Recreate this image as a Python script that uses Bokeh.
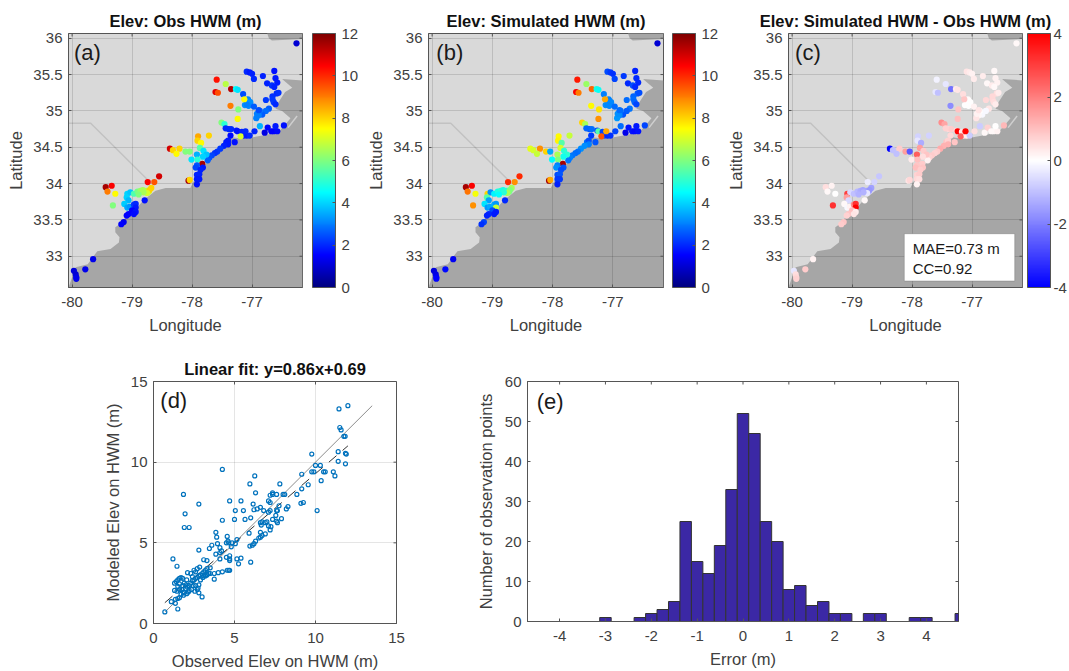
import numpy as np
from bokeh.plotting import figure
from bokeh.layouts import column, row
from bokeh.models import (ColumnDataSource, LinearColorMapper, ColorBar, FixedTicker,
                          Label, BoxAnnotation, Title, Range1d)
from bokeh.transform import transform
from bokeh.embed import file_html
from bokeh.resources import INLINE

LON = [-76.26,-77.09,-77.04,-77.00,-76.97,-76.82,-76.63,-76.61,-76.75,-76.58,
       -76.67,-76.63,-76.59,-76.56,-76.66,-76.66,-76.77,-76.64,-76.61,-76.72,
       -76.77,-76.83,-76.87,-76.89,-76.93,-76.92,-77.15,-77.07,-77.06,-77.08,
       -77.03,-77.12,-77.06,-77.09,-76.97,-76.89,-77.59,-77.44,-77.35,-77.27,
       -77.24,-77.61,-77.57,-77.36,-77.23,-77.24,-77.13,-77.51,-77.46,-77.39,
       -77.35,-77.36,-77.26,-77.24,-77.17,-77.14,-77.19,-77.09,-77.04,-77.11,
       -76.96,-76.87,-76.79,-76.74,-76.68,-76.64,-76.58,-76.61,-76.47,-77.44,
       -77.43,-77.40,-77.40,-77.29,-77.47,-77.53,-77.58,-77.62,-77.67,-77.71,
       -77.74,-77.90,-77.91,-77.85,-77.72,-77.87,-77.81,-77.92,-77.76,-77.82,
       -78.01,-77.91,-78.37,-78.32,-78.21,-78.26,-78.11,-78.04,-77.83,-77.92,
       -77.94,-77.82,-77.86,-77.92,-77.88,-77.92,-77.88,-77.92,-78.06,-78.04,
       -78.55,-78.63,-78.74,-79.34,-79.44,-79.41,-79.28,-79.32,-78.79,-79.08,
       -79.03,-79.09,-79.06,-79.13,-79.08,-79.04,-78.97,-78.94,-78.94,-79.00,
       -79.06,-79.09,-78.94,-78.97,-79.14,-79.18,-78.97,-78.91,-78.86,-78.82,
       -78.76,-78.72,-78.68,-78.71,-78.75,-78.81,-78.89,-79.65,-79.78,-79.97,
       -79.94,-79.93,-79.93]
LAT = [35.93,35.54,35.53,35.51,35.44,35.48,35.55,35.45,35.38,35.39,
       35.35,35.33,35.24,35.25,35.20,35.16,35.15,35.12,35.09,35.03,
       35.00,34.95,35.00,34.94,34.90,34.96,35.23,35.16,35.14,35.12,
       35.12,35.08,35.07,35.09,35.06,35.01,35.43,35.37,35.30,35.30,
       35.29,35.26,35.25,35.07,35.02,34.89,35.16,34.84,34.82,34.75,
       34.75,34.66,34.73,34.72,34.71,34.66,34.65,34.66,34.66,34.72,
       34.72,34.79,34.70,34.77,34.72,34.72,34.72,34.79,34.80,34.76,
       34.57,34.59,34.54,34.57,34.52,34.48,34.44,34.42,34.39,34.36,
       34.32,34.65,34.59,34.56,34.66,34.49,34.45,34.40,34.40,34.37,
       34.33,34.33,34.48,34.46,34.48,34.41,34.44,34.44,34.27,34.25,
       34.22,34.22,34.19,34.12,34.13,34.06,34.06,33.99,34.04,34.05,
       34.10,34.02,34.02,33.97,33.95,33.89,33.86,33.70,33.77,33.86,
       33.88,33.81,33.77,33.72,33.67,33.68,33.71,33.72,33.67,33.63,
       33.58,33.56,33.61,33.58,33.47,33.44,33.86,33.89,33.90,33.91,
       33.90,33.89,33.94,33.91,33.87,33.88,33.85,32.96,32.82,32.80,
       32.75,32.71,32.69]
OBS = [1.0,2.0,1.8,1.9,2.0,1.9,1.7,1.8,1.9,1.8,
       2.1,1.9,2.0,2.1,2.1,2.2,2.2,2.2,2.0,2.6,
       2.8,2.6,2.8,3.0,3.0,3.0,2.4,3.0,3.1,3.1,
       3.2,3.2,3.1,3.0,2.6,2.4,10.3,6.7,11.3,4.5,
       4.2,10.8,9.6,9.0,6.0,7.5,7.5,6.0,5.0,2.0,
       2.0,1.6,1.8,1.7,1.9,1.8,7.0,1.8,2.0,2.0,
       1.9,3.6,1.2,1.5,1.5,1.5,1.6,1.8,1.7,2.0,
       1.8,1.8,1.8,1.7,1.9,2.2,2.2,2.1,2.3,2.4,
       2.6,8.5,8.0,7.5,8.0,5.5,4.2,3.6,3.8,4.0,
       4.2,5.0,11.0,8.0,8.0,7.5,6.0,6.0,11.5,2.5,
       2.3,1.8,1.9,1.9,1.9,1.8,1.8,1.7,11.5,8.0,
       11.0,9.5,10.5,10.5,11.5,9.0,7.5,6.0,1.7,4.0,
       3.8,4.0,3.7,3.9,3.5,3.3,2.2,2.0,1.8,1.5,
       1.5,1.5,1.7,1.6,1.4,1.5,5.4,5.9,6.3,6.5,
       6.6,7.0,8.0,8.0,7.0,6.5,6.0,1.3,1.3,1.1,
       1.0,1.2,1.3]
SIM = [1.0,2.4,2.2,2.1,2.3,2.2,1.9,2.0,2.0,2.0,
       2.4,2.0,2.5,2.4,2.7,2.8,2.8,2.7,2.3,2.9,
       2.6,2.5,2.8,3.1,3.3,3.2,3.0,3.1,3.0,3.0,
       3.1,3.2,3.1,3.1,2.8,2.8,10.2,6.3,9.3,4.8,
       4.6,10.5,9.0,7.5,7.8,8.8,8.5,8.0,6.5,2.5,
       2.8,2.2,2.4,5.5,2.3,2.4,9.5,2.0,2.1,8.5,
       2.3,2.8,1.3,1.7,1.7,1.6,1.7,1.8,2.3,2.7,
       2.8,2.4,3.0,2.5,3.2,3.2,2.9,2.8,2.9,3.0,
       2.9,7.5,7.6,5.5,6.8,7.0,5.0,6.5,5.0,4.7,
       4.5,6.0,7.2,7.0,8.8,6.8,8.0,3.5,11.5,3.0,
       3.2,2.5,2.4,2.4,2.5,2.2,2.2,1.9,11.5,8.5,
       10.0,8.8,10.0,10.5,11.5,9.1,7.4,8.8,2.0,8.0,
       3.2,5.5,3.4,4.2,3.3,3.5,3.6,3.3,6.8,2.4,
       2.0,1.9,1.8,1.8,2.3,2.1,4.4,4.8,5.0,4.8,
       5.0,5.8,6.4,6.0,6.5,5.0,4.5,1.4,1.6,1.1,
       1.2,1.4,1.5]
ERR = [0.1,0.4,0.3,0.2,0.3,0.3,0.1,0.2,0.1,0.2,
       0.3,0.1,0.5,0.3,0.6,0.6,0.6,0.5,0.3,0.4,
       -0.1,-0.1,0.0,0.1,0.4,0.2,0.5,0.1,0.0,0.0,
       0.0,0.0,0.0,0.0,0.2,0.4,-0.2,-0.4,-2.2,0.3,
       0.4,-0.4,-1.0,-1.8,0.9,1.0,0.9,1.8,1.4,0.6,
       0.8,0.6,0.6,4.0,0.4,0.6,2.5,0.2,-0.8,4.0,
       0.5,-0.8,0.1,0.7,0.1,0.1,0.2,0.0,1.1,0.7,
       0.9,0.7,1.2,0.9,1.2,1.3,0.8,0.7,0.8,0.7,
       0.2,-0.7,-0.4,-1.3,-0.7,1.5,0.8,2.5,0.9,0.5,
       0.3,1.0,-4.0,-1.0,0.8,-1.0,1.5,-2.6,0.8,0.9,
       1.0,0.9,0.8,0.7,0.8,0.6,0.5,0.2,0.4,0.6,
       -0.9,-0.7,-0.3,0.2,0.5,0.1,0.0,3.2,0.1,3.0,
       -0.6,1.5,-0.6,0.1,-0.1,0.2,1.8,3.2,4.0,1.0,
       0.9,0.7,0.3,0.4,0.9,0.8,-1.0,-1.1,-1.3,-1.4,
       -1.4,-1.2,-1.5,-1.6,-0.4,-1.2,-1.2,0.2,0.8,-0.4,
       0.5,0.6,0.7]

OCEAN_LON = [-76.16,-76.50,-76.33,-76.45,-76.56,-76.61,-76.50,-76.36,-76.44,-76.56,-76.78,-77.03,-77.19,
             -77.36,-77.39,-77.39,-77.64,-77.78,-77.86,-77.98,-78.03,-78.44,-78.61,-78.81,-78.94,-79.06,
             -79.21,-79.28,-79.28,-79.21,-79.22,-79.36,-79.58,-79.74,-79.94,-80.00,-80.06,-76.16]
OCEAN_LAT = [35.42,35.44,35.32,35.26,35.12,35.03,35.00,34.90,34.82,34.71,34.67,34.63,34.62,
             34.64,34.71,34.55,34.36,34.27,34.16,34.02,33.94,33.94,33.90,33.77,33.65,33.58,
             33.44,33.40,33.33,33.26,33.19,33.10,33.07,32.89,32.85,32.71,32.57,32.57]
SOUND_LON = [-76.75,-76.16,-76.16,-76.67,-76.72]
SOUND_LAT = [36.07,36.07,35.99,35.97,36.00]
BORDER_LON = [-80.06,-79.69,-78.75]
BORDER_LAT = [34.83,34.83,34.06]
BAR_LON = [-76.40,-76.25]
BAR_LAT = [34.77,34.93]

MAP_X_TICKS = [-80,-79,-78,-77]
MAP_X_LABELS = ["-80","-79","-78","-77"]
MAP_Y_TICKS = [33,33.5,34,34.5,35,35.5,36]
MAP_Y_LABELS = ["33","33.5","34","34.5","35","35.5","36"]

FIT_X = [0.72,13.5]
FIT_Y = [0.72,13.5]
TREND_X = [0.7,12.0]
TREND_Y = [1.29,11.01]
OBS_D = [12.0,11.45,11.5,11.58,11.75,11.83,11.4,11.85,11.9,11.4,11.85,9.77,10.0,10.3,9.77,9.9,10.5,10.6,11.1,11.2,
         10.35,9.55,10.1,9.15,9.15,8.85,9.1,9.25,4.25,6.25,1.85,1.95,2.8,1.9,2.2,5.95,6.3,7.8,4.7,5.4,
         5.05,5.55,4.25,5.0,5.65,6.0,6.15,6.2,6.6,6.4,6.8,7.1,7.2,7.1,7.2,7.2,7.35,7.35,7.6,8.0,
         8.1,7.6,7.65,7.75,8.2,8.3,7.55,7.6,7.65,7.35,7.9,6.6,6.7,6.9,7.0,7.1,7.25,7.2,6.65,5.9,
         6.6,6.9,6.7,6.6,6.5,6.3,6.2,6.1,5.95,6.0,3.85,3.9,3.95,3.6,3.45,2.8,4.55,4.6,4.5,4.65,
         4.85,5.05,5.15,4.8,4.1,4.2,4.1,3.85,4.5,4.7,4.7,4.7,5.15,5.4,5.25,3.1,3.3,4.1,1.2,1.45,
         4.65,4.7,4.55,4.25,4.0,3.75,3.5,3.3,3.1,3.75,0.7,1.5,1.1,1.35,3.0,2.8,1.3,1.4,1.5,1.6,
         1.7,1.8,1.5,1.6,1.3,1.45,1.6,1.75,1.9,1.7,1.85,1.5,1.6,1.35,1.9,2.05,2.1,2.3,2.5,2.6,
         2.85,2.7,2.4,2.5,2.6,2.7,2.8,2.9,3.0,3.1,3.2,2.3,2.2,2.1,2.0,2.2,2.35,2.55,2.75,2.8,
         2.7,2.4,2.0,1.8,2.9,3.05,3.2,3.3,3.4,3.5,3.3,2.6,2.45,1.85,2.15,2.05]
SIM_D = [13.5,13.3,12.15,12.0,11.6,11.6,10.65,10.55,10.5,10.05,9.9,10.5,9.8,9.8,9.4,9.4,9.4,9.4,9.4,9.15,
         8.85,8.6,7.0,9.25,8.35,8.0,7.45,7.5,9.55,9.15,8.0,6.8,7.4,5.95,5.95,8.65,8.1,8.65,7.6,7.6,
         7.0,7.0,6.4,6.45,6.45,6.55,7.4,7.05,7.2,7.1,7.0,6.9,7.0,7.6,7.5,7.95,8.1,8.0,8.0,8.0,
         8.0,7.0,7.0,7.3,7.1,7.25,6.7,6.35,6.25,6.45,6.5,6.25,6.3,6.25,6.3,6.05,6.0,5.8,6.1,5.6,
         5.65,5.55,5.45,5.35,5.3,5.1,4.95,4.85,4.8,3.8,5.65,5.35,4.95,4.85,4.65,4.55,5.4,5.1,5.0,5.0,
         5.0,4.95,5.2,4.75,4.7,4.5,4.4,4.3,4.1,4.0,4.2,3.9,4.0,4.05,3.7,3.95,3.9,4.0,4.0,3.55,
         3.3,3.3,3.3,3.2,3.15,3.1,3.1,3.0,2.95,2.75,0.72,0.9,1.35,1.25,1.65,1.9,2.5,2.6,2.7,2.8,
         2.85,2.8,2.3,2.45,2.05,2.0,2.1,2.1,1.9,1.8,1.75,1.55,1.6,1.5,2.5,2.7,3.15,3.1,3.3,3.2,
         3.5,3.4,2.9,2.7,2.8,2.85,2.95,3.0,3.1,3.2,3.3,2.5,2.35,2.25,2.15,2.05,2.1,2.0,2.2,2.4,
         2.1,2.65,2.4,2.35,2.7,2.85,2.95,3.05,3.1,3.45,3.4,2.35,2.35,1.95,1.95,1.85]

ERR_BINS = [-3.0,-2.25,-2.0,-1.75,-1.5,-1.25,-1.0,-0.75,-0.5,-0.25,0.0,0.25,0.5,0.75,1.0,1.25,1.5,1.75,2.0,2.25,
            2.75,3.0,3.75,4.0,4.75]
ERR_COUNTS = [1,1,2,3,5,25,15,12,19,33,52,47,25,20,8,9,4,5,2,2,2,2,1,1,2]
BIN_WIDTH = 0.25

# MATLAB jet and blue-white-red colormaps
def jet(n=256):
    t = np.linspace(0, 1, n)
    r = np.clip(np.minimum(4*t-1.5, -4*t+4.5), 0, 1)
    g = np.clip(np.minimum(4*t-0.5, -4*t+3.5), 0, 1)
    b = np.clip(np.minimum(4*t+0.5, -4*t+2.5), 0, 1)
    return ["#%02x%02x%02x" % (int(a*255), int(c*255), int(d*255)) for a, c, d in zip(r, g, b)]

def bwr(n=256):
    t = np.linspace(-1, 1, n)
    r = np.where(t < 0, 1+t, 1.0); g = 1-np.abs(t); b = np.where(t > 0, 1-t, 1.0)
    return ["#%02x%02x%02x" % (int(a*255), int(c*255), int(d*255)) for a, c, d in zip(r, g, b)]

FONT = "Liberation Sans"
INK = "#404040"
EDGE = "#555555"
TICK_PX = "15px"
LABEL_PX = "16.5px"
TITLE_PX = "16.5px"
TICK_LEN = 3

def style_axes(p, xt, yt, xl=None, yl=None, y_label_standoff=7):
    for ax, ticks, labels in ((p.xaxis[0], xt, xl), (p.yaxis[0], yt, yl)):
        ax.ticker = FixedTicker(ticks=ticks)
        if labels:
            ax.major_label_overrides = dict(zip(ticks, labels))
        ax.major_tick_in = TICK_LEN; ax.major_tick_out = 0
        ax.minor_tick_line_color = None
        ax.axis_line_color = EDGE; ax.major_tick_line_color = EDGE
        ax.major_label_text_font = FONT; ax.major_label_text_font_size = TICK_PX
        ax.major_label_text_color = INK
        ax.axis_label_text_font = FONT; ax.axis_label_text_font_size = LABEL_PX
        ax.axis_label_text_color = INK; ax.axis_label_text_font_style = "normal"
    p.xaxis[0].major_label_standoff = 9
    p.xaxis[0].axis_label_standoff = 6
    p.yaxis[0].major_label_standoff = 6
    p.yaxis[0].axis_label_standoff = y_label_standoff
    p.outline_line_color = EDGE
    # the box carries ticks on its top and right sides too
    dy = TICK_LEN * (p.y_range.end - p.y_range.start) / p.frame_height
    dx = TICK_LEN * (p.x_range.end - p.x_range.start) / p.frame_width
    top, right = p.y_range.end, p.x_range.end
    p.segment(x0=xt, x1=xt, y0=[top]*len(xt), y1=[top-dy]*len(xt), line_color=EDGE, line_width=1)
    p.segment(x0=[right]*len(yt), x1=[right-dx]*len(yt), y0=yt, y1=yt, line_color=EDGE, line_width=1)

def add_title(p, text):
    p.add_layout(Title(text=text, align="center", text_font=FONT, text_font_size=TITLE_PX,
                       text_font_style="bold", text_color="#111111", standoff=7), "above")

def tag(p, x, y, text):
    p.add_layout(Label(x=x, y=y, text=text, text_font=FONT, text_font_size="22px",
                       text_color="#1a1a1a", text_baseline="middle"))

def map_panel(title, letter, field, mapper, cb_ticks, cb_labels, fw, left, right, gap, tag_x, cb_standoff=6):
    src = ColumnDataSource(dict(lon=LON, lat=LAT, val=field))
    p = figure(frame_width=fw, frame_height=254, x_range=Range1d(-80.06, -76.16), y_range=Range1d(32.57, 36.065),
               min_border_left=left, min_border_right=right, min_border_top=33, min_border_bottom=61,
               toolbar_location=None, output_backend="svg", x_axis_label="Longitude", y_axis_label="Latitude",
               background_fill_color="#d9d9d9", border_fill_color="white")
    p.patch(OCEAN_LON, OCEAN_LAT, fill_color="#a6a6a6", line_color=None, level="image")
    p.patch(SOUND_LON, SOUND_LAT, fill_color="#a6a6a6", line_color=None, level="image")
    p.line(BORDER_LON, BORDER_LAT, line_color="#c2c2c2", line_width=1.5, level="image")
    p.line(BAR_LON, BAR_LAT, line_color="#cfcfcf", line_width=1.5, level="image")
    p.grid.grid_line_color = "#000000"; p.grid.grid_line_alpha = 0.13; p.grid.grid_line_width = 1
    p.scatter("lon", "lat", source=src, size=6.2, line_color=None,
              fill_color=transform("val", mapper))
    style_axes(p, MAP_X_TICKS, MAP_Y_TICKS, MAP_X_LABELS, MAP_Y_LABELS, y_label_standoff=5)
    cb = ColorBar(color_mapper=mapper, ticker=FixedTicker(ticks=cb_ticks),
                  major_label_overrides=dict(zip(cb_ticks, cb_labels)),
                  width=23, height=254, padding=0, margin=0, location=(gap, 0),
                  major_label_text_font=FONT, major_label_text_font_size=TICK_PX, major_label_text_color=INK,
                  major_tick_line_color=EDGE, major_tick_in=3, minor_tick_line_color=None,
                  bar_line_color=EDGE, label_standoff=cb_standoff, background_fill_color=None, border_line_color=None)
    p.add_layout(cb, "right")
    add_title(p, title)
    tag(p, tag_x, 35.81, letter)
    return p

CB_TICKS_A = [0,2,4,6,8,10,12]
CB_LABELS_A = ["0","2","4","6","8","10","12"]
CB_TICKS_C = [-4,-2,0,2,4]
CB_LABELS_C = ["-4","-2","0","2","4"]

jet_map = LinearColorMapper(palette=jet(), low=0, high=12)
bwr_map = LinearColorMapper(palette=bwr(), low=-4, high=4)

pa = map_panel("Elev: Obs HWM (m)", "(a)", OBS, jet_map, CB_TICKS_A, CB_LABELS_A, 234, 68, 59, 10, -79.97)
pb = map_panel("Elev: Simulated HWM (m)", "(b)", SIM, jet_map, CB_TICKS_A, CB_LABELS_A, 235, 67, 58, 9, -79.93)
pc = map_panel("Elev: Simulated HWM - Obs HWM (m)", "(c)", ERR, bwr_map, CB_TICKS_C, CB_LABELS_C, 234, 67, 47, 5, -79.95, 3)
pc.add_layout(BoxAnnotation(left=-78.13, right=-76.29, bottom=32.66, top=33.31, fill_color="white", fill_alpha=1,
                            line_color="#555555", line_width=1))
pc.add_layout(Label(x=-77.99, y=33.11, text="MAE=0.73 m", text_font=FONT, text_font_size="15px",
                    text_color="#1a1a1a", text_baseline="middle"))
pc.add_layout(Label(x=-77.99, y=32.83, text="CC=0.92", text_font=FONT, text_font_size="15px",
                    text_color="#1a1a1a", text_baseline="middle"))

# (d)
pd = figure(frame_width=243, frame_height=242, x_range=Range1d(0, 15), y_range=Range1d(0, 15),
            min_border_left=153, min_border_right=62, min_border_top=33, min_border_bottom=40,
            toolbar_location=None, output_backend="svg",
            x_axis_label="Observed Elev on HWM (m)", y_axis_label="Modeled Elev on HWM (m)")
pd.grid.grid_line_color = "#000000"; pd.grid.grid_line_alpha = 0.1
pd.line(FIT_X, FIT_Y, line_color="#8c8c8c", line_width=1)
pd.line(TREND_X, TREND_Y, line_color="#333333", line_width=1, line_dash="10 8")
pd.scatter(OBS_D, SIM_D, size=4, fill_color=None, line_color="#0072bd", line_width=1.2)
style_axes(pd, [0,5,10,15], [0,5,10,15], y_label_standoff=6)
add_title(pd, "Linear fit: y=0.86x+0.69")
tag(pd, 0.42, 13.8, "(d)")

# (e)
pe = figure(frame_width=431, frame_height=240, x_range=Range1d(-4.7, 4.7), y_range=Range1d(0, 60),
            min_border_left=69, min_border_right=103, min_border_top=33, min_border_bottom=42,
            toolbar_location=None, output_backend="svg",
            x_axis_label="Error (m)", y_axis_label="Number of observation points")
pe.grid.visible = False
pe.vbar(x=ERR_BINS, top=ERR_COUNTS, width=BIN_WIDTH, bottom=0, fill_color="#3b28a5",
        line_color="#333333", line_width=1)
style_axes(pe, [-4,-3,-2,-1,0,1,2,3,4], [0,10,20,30,40,50,60],
           ["-4","-3","-2","-1","0","1","2","3","4"], None, y_label_standoff=7)
tag(pe, -4.5, 55, "(e)")

layout = column(row(pa, pb, pc, spacing=0), row(pd, pe, spacing=0), spacing=0)
open("out.html", "w").write(file_html(layout, INLINE))
